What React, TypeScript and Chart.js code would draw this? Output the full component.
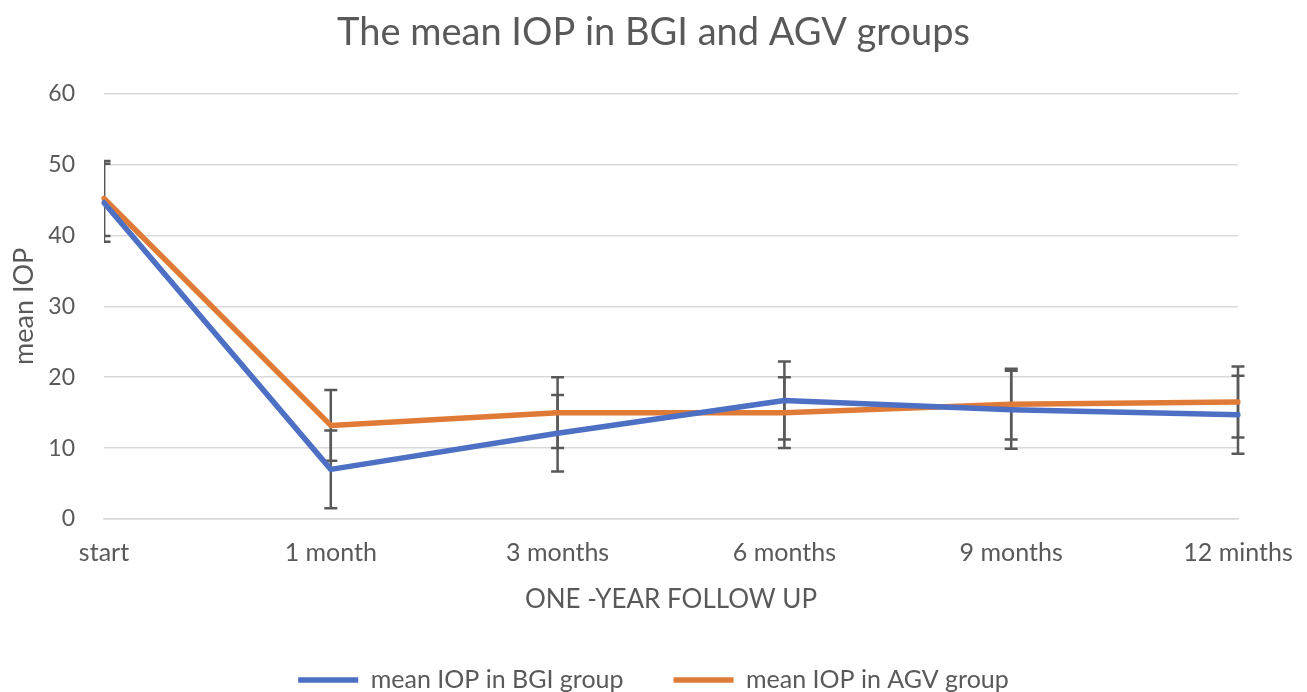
import React, { useEffect, useRef } from "react";
import { Chart, registerables } from "chart.js";

Chart.register(...registerables);

const categories = ["start", "1 month", "3 months", "6 months", "9 months", "12 minths"];
const bgiValues = [44.6, 7.0, 12.1, 16.7, 15.4, 14.7];
const bgiErrors = [5.5, 5.5, 5.4, 5.5, 5.5, 5.5];
const agvValues = [45.2, 13.2, 15.0, 15.0, 16.2, 16.5];
const agvErrors = [5.3, 5.0, 5.0, 5.0, 5.0, 5.0];
const yTicks = [0, 10, 20, 30, 40, 50, 60];

const FONT = "Lato, 'Open Sans', sans-serif";
const TEXT = "#595959";
const BLUE = "#4D70C4";
const ORANGE = "#E07B37";

const errorBarPlugin = {
  id: "errorBars",
  beforeDatasetsDraw(chart: any) {
    const { ctx, chartArea, scales } = chart;
    const xs = scales.x;
    const ys = scales.y;
    ctx.save();
    ctx.beginPath();
    ctx.rect(chartArea.left, chartArea.top - 20, chartArea.right - chartArea.left + 20, chartArea.bottom - chartArea.top + 40);
    ctx.clip();
    ctx.strokeStyle = "#595959";
    ctx.lineWidth = 2.5;
    chart.data.datasets.forEach((ds: any) => {
      const errs: number[] = ds.errors;
      ds.data.forEach((v: number, i: number) => {
        const x = xs.getPixelForValue(i);
        const yTop = ys.getPixelForValue(v + errs[i]);
        const yBot = ys.getPixelForValue(v - errs[i]);
        ctx.beginPath();
        ctx.moveTo(x, yTop);
        ctx.lineTo(x, yBot);
        ctx.moveTo(x - 6.5, yTop);
        ctx.lineTo(x + 6.5, yTop);
        ctx.moveTo(x - 6.5, yBot);
        ctx.lineTo(x + 6.5, yBot);
        ctx.stroke();
      });
    });
    ctx.restore();
  },
};

export default function App() {
  const ref = useRef<HTMLCanvasElement | null>(null);
  useEffect(() => {
    if (!ref.current) return;
    const chart = new Chart(ref.current, {
      type: "line",
      data: {
        labels: categories,
        datasets: [
          {
            label: "mean IOP in BGI group",
            data: bgiValues,
            errors: bgiErrors,
            borderColor: BLUE,
            backgroundColor: BLUE,
            borderWidth: 5.5,
            pointRadius: 0,
            pointStyle: "line",
            borderCapStyle: "round",
            borderJoinStyle: "round",
            tension: 0,
          } as any,
          {
            label: "mean IOP in AGV group",
            data: agvValues,
            errors: agvErrors,
            borderColor: ORANGE,
            backgroundColor: ORANGE,
            borderWidth: 5.5,
            pointRadius: 0,
            pointStyle: "line",
            borderCapStyle: "round",
            borderJoinStyle: "round",
            tension: 0,
          } as any,
        ],
      },
      plugins: [errorBarPlugin],
      options: {
        animation: false,
        responsive: false,
        layout: { padding: { left: 0, right: 0, top: 0, bottom: -10.5 } },
        plugins: {
          title: {
            display: true,
            text: "The mean IOP in BGI and AGV groups",
            color: TEXT,
            font: { family: FONT, size: 38, weight: "normal" },
            padding: { top: 10, bottom: 38 },
          },
          legend: {
            position: "bottom",
            labels: {
              usePointStyle: true,
              pointStyleWidth: 60,
              padding: 50,
              color: TEXT,
              font: { family: FONT, size: 25 },
            },
          },
          tooltip: { enabled: false },
        },
        scales: {
          x: {
            offset: false,
            grid: { display: false, drawTicks: false },
            border: { display: true, color: "#d9d9d9", width: 1.5 },
            ticks: {
              color: TEXT,
              font: { family: FONT, size: 25 },
              padding: 19,
              maxRotation: 0,
              autoSkip: false,
            },
            title: {
              display: true,
              text: "ONE -YEAR FOLLOW UP",
              color: TEXT,
              font: { family: FONT, size: 26 },
              padding: { top: 4, bottom: 2 },
            },
            afterFit(s: any) {
              s.paddingRight = 69;
              s.paddingLeft = 0;
              s.height = 617.5 - 519;
            },
          },
          y: {
            min: 0,
            max: 60,
            afterBuildTicks(s: any) {
              s.ticks = yTicks.map((v) => ({ value: v }));
            },
            grid: { color: "#d9d9d9", lineWidth: 1.5, drawTicks: false },
            border: { display: false },
            ticks: {
              color: TEXT,
              font: { family: FONT, size: 23 },
              padding: 29,
            },
            title: {
              display: true,
              text: "mean IOP",
              color: TEXT,
              font: { family: FONT, size: 27 },
              padding: { top: 8, bottom: 4 },
            },
            afterFit(s: any) {
              s.width = 104;
            },
          },
        },
      } as any,
    });
    return () => chart.destroy();
  }, []);
  return (
    <div style={{ position: "fixed", left: 0, top: 0, width: 1307, height: 692, background: "#fff" }}>
      <canvas ref={ref} width={1307} height={692} style={{ width: 1307, height: 692 }} />
    </div>
  );
}
